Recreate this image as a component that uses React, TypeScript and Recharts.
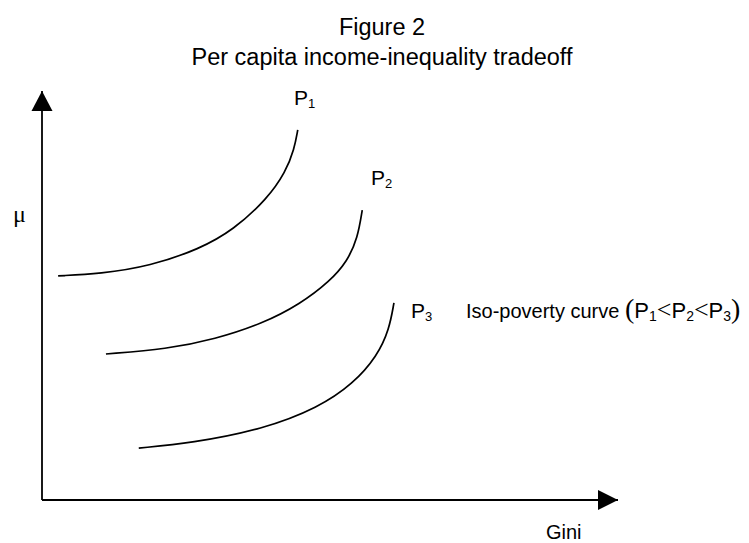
import { LineChart, Line, XAxis, YAxis, ReferenceDot, ReferenceLine } from 'recharts';

// Iso-poverty curves (gini on x, mean income mu on y, both 0-100)
const curveP1 = [
  { gini: 2.8, mu: 54.8 },
  { gini: 10.1, mu: 55.3 },
  { gini: 18.8, mu: 57.2 },
  { gini: 27.4, mu: 61.4 },
  { gini: 33.2, mu: 66.0 },
  { gini: 39.1, mu: 73.6 },
  { gini: 42.3, mu: 80.2 },
  { gini: 43.8, mu: 85.8 },
  { gini: 44.4, mu: 90.5 },
];

const curveP2 = [
  { gini: 11.1, mu: 35.7 },
  { gini: 21.7, mu: 36.9 },
  { gini: 30.0, mu: 39.3 },
  { gini: 38.4, mu: 43.2 },
  { gini: 44.8, mu: 47.9 },
  { gini: 50.0, mu: 53.5 },
  { gini: 53.0, mu: 58.4 },
  { gini: 54.8, mu: 64.0 },
  { gini: 55.6, mu: 70.9 },
];

const curveP3 = [
  { gini: 16.8, mu: 12.7 },
  { gini: 25.9, mu: 13.9 },
  { gini: 38.4, mu: 17.3 },
  { gini: 48.0, mu: 22.6 },
  { gini: 54.0, mu: 28.4 },
  { gini: 58.2, mu: 35.2 },
  { gini: 60.3, mu: 41.8 },
  { gini: 61.1, mu: 48.2 },
];

const titleLines = ['Figure 2', 'Per capita income-inequality tradeoff'];
const curveNames = ['1', '2', '3'];
const xLabel = 'Gini';
const yLabel = 'μ';
const legendText = 'Iso-poverty curve ';

const SANS = '"Liberation Sans", Arial, sans-serif';
const SERIF = '"Liberation Serif", "Times New Roman", serif';

const upArrow = (p: any) => (
  <polygon
    points={`${p.cx},${p.cy} ${p.cx - 10.5},${p.cy + 20} ${p.cx + 10.5},${p.cy + 20}`}
    fill="#000"
  />
);

const rightArrow = (p: any) => (
  <polygon
    points={`${p.cx},${p.cy} ${p.cx - 20},${p.cy - 10} ${p.cx - 20},${p.cy + 10}`}
    fill="#000"
  />
);

function PLabel({ x, y, n }: { x: number; y: number; n: string }) {
  return (
    <text x={x} y={y} fontFamily={SANS} fontSize={21} fill="#000">
      P
      <tspan fontSize={13} dy={3}>
        {n}
      </tspan>
    </text>
  );
}

export default function App() {
  const curves = [curveP1, curveP2, curveP3];
  return (
    <div style={{ position: 'absolute', left: 0, top: 0, width: 749, height: 543, background: '#fff' }}>
      <div style={{ position: 'absolute', left: 0, top: 0 }}>
        <LineChart width={749} height={543} margin={{ top: 91, right: 131, bottom: 43, left: 42 }}>
          <XAxis type="number" dataKey="gini" domain={[0, 100]} hide />
          <YAxis type="number" domain={[0, 100]} hide />
          <ReferenceLine x={0} stroke="#000" strokeWidth={1.8} />
          <ReferenceLine y={0} stroke="#000" strokeWidth={1.8} />
          {curves.map((c, i) => (
            <Line
              key={i}
              data={c}
              dataKey="mu"
              type="basis"
              stroke="#000"
              strokeWidth={1.7}
              dot={false}
              activeDot={false}
              isAnimationActive={false}
            />
          ))}
          <ReferenceDot x={0} y={100} r={0} shape={upArrow} />
          <ReferenceDot x={100} y={0} r={0} shape={rightArrow} />
        </LineChart>
      </div>
      <svg width={749} height={543} style={{ position: 'absolute', left: 0, top: 0, pointerEvents: 'none' }}>
        {titleLines.map((t, i) => (
          <text key={t} x={382} y={35 + i * 30} textAnchor="middle" fontFamily={SANS} fontSize={23.5} fill="#000">
            {t}
          </text>
        ))}
        <text x={13} y={222} fontFamily={SERIF} fontSize={24} fill="#000">
          {yLabel}
        </text>
        <text x={546} y={539} fontFamily={SANS} fontSize={20} fill="#000">
          {xLabel}
        </text>
        <PLabel x={294} y={105} n={curveNames[0]} />
        <PLabel x={371} y={185} n={curveNames[1]} />
        <PLabel x={411} y={318} n={curveNames[2]} />
        <text x={466} y={318} fontFamily={SANS} fontSize={20} fill="#000">
          {legendText}
          <tspan fontFamily={SERIF} fontSize={28}>(</tspan>
          <tspan fontSize={22}>P</tspan>
          <tspan fontSize={14} dy={3}>1</tspan>
          <tspan fontFamily={SERIF} fontSize={26} dy={-3}>&lt;</tspan>
          <tspan fontSize={22}>P</tspan>
          <tspan fontSize={14} dy={3}>2</tspan>
          <tspan fontFamily={SERIF} fontSize={26} dy={-3}>&lt;</tspan>
          <tspan fontSize={22}>P</tspan>
          <tspan fontSize={14} dy={3}>3</tspan>
          <tspan fontFamily={SERIF} fontSize={28} dy={-3}>)</tspan>
        </text>
      </svg>
    </div>
  );
}
